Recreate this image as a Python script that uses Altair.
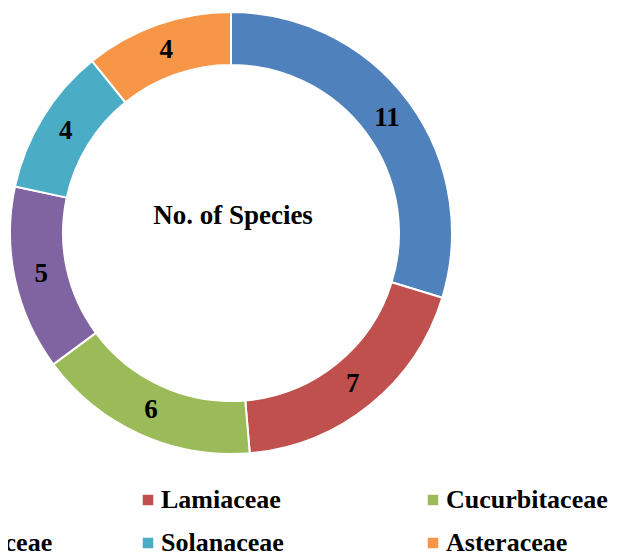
import altair as alt
import pandas as pd

families = ["Fabaceae", "Lamiaceae", "Cucurbitaceae", "Amaranthaceae", "Solanaceae", "Asteraceae"]
counts = [11, 7, 6, 5, 4, 4]
colors = ["#4F81BD", "#C0504D", "#9BBB59", "#8064A2", "#4BACC6", "#F79646"]
center_title = "No. of Species"

df = pd.DataFrame({"family": families, "count": counts, "idx": list(range(len(families)))})

FONT = "Liberation Serif"
CX, CY = 223, 225

base = alt.Chart(df).encode(
    theta=alt.Theta("count:Q", stack=True),
    order=alt.Order("idx:Q"),
)

arcs = base.mark_arc(innerRadius=168, outerRadius=221, stroke="white", strokeWidth=2).encode(
    x=alt.value(CX),
    y=alt.value(CY),
    color=alt.Color(
        "family:N",
        scale=alt.Scale(domain=families, range=colors),
        sort=families,
        legend=alt.Legend(
            title=None,
            orient="none",
            legendX=-158,
            legendY=479,
            direction="horizontal",
            columns=3,
            gridAlign="all",
            columnPadding=82,
            rowPadding=17,
            symbolType="square",
            symbolSize=110,
            symbolStrokeWidth=0,
            labelOffset=0,
            labelFont=FONT,
            labelFontWeight="bold",
            labelFontSize=26,
            labelColor="black",
            labelLimit=400,
        ),
    ),
)

labels = base.mark_text(radius=194, font=FONT, fontWeight="bold", fontSize=27, color="black").encode(
    x=alt.value(CX),
    y=alt.value(CY),
    text=alt.Text("count:Q"),
)

title_df = pd.DataFrame({"t": [center_title]})
title = alt.Chart(title_df).mark_text(
    font=FONT, fontWeight="bold", fontSize=27, color="black", baseline="middle", align="center"
).encode(text="t:N", x=alt.value(225), y=alt.value(208))

chart = alt.layer(arcs, labels, title).properties(
    width=602, height=544, autosize=alt.AutoSizeParams(type="none"), padding=0
).configure_view(stroke=None)

chart.save("out.html", embed_options={"renderer": "svg", "actions": False})
